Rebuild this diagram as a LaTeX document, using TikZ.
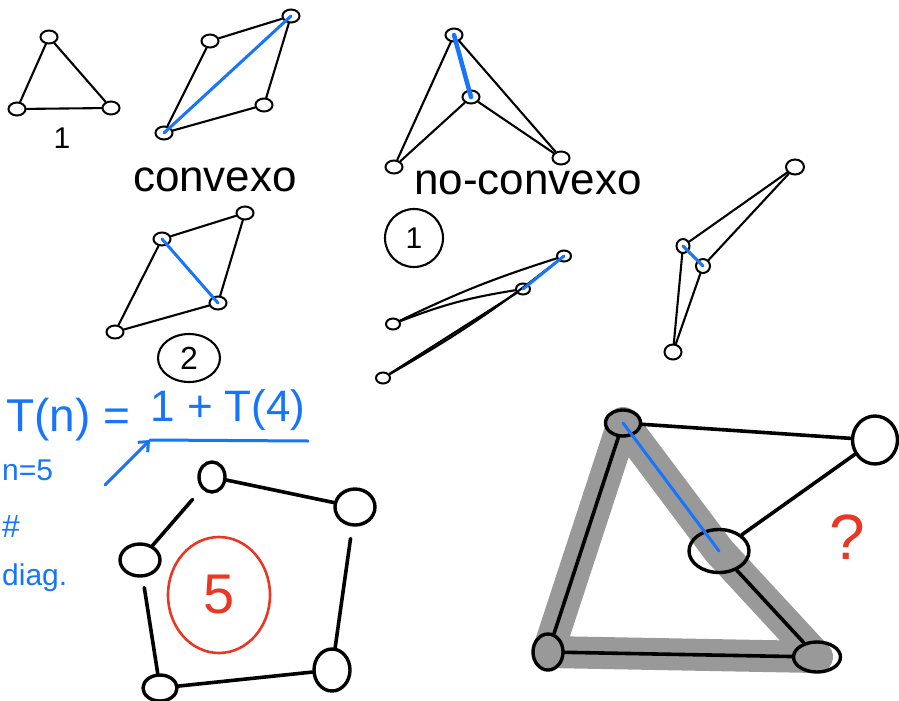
\documentclass[tikz,border=0pt]{standalone}
\usepackage{fontspec}
\setmainfont{Liberation Sans}
\usetikzlibrary{shapes.geometric, arrows.meta, backgrounds}
\definecolor{inkblue}{RGB}{22,117,250}
\definecolor{inkred}{RGB}{232,56,36}
\definecolor{marker}{RGB}{153,153,153}

\begin{document}
\begin{tikzpicture}[
    x=1pt, y=-1pt,
    vtx/.style={draw, ellipse, line width=2pt, inner sep=0pt, minimum width=17pt, minimum height=13pt},
    bigvtx/.style={draw, ellipse, line width=3.4pt, inner sep=0pt},
    ln/.style={line width=2.1pt, line cap=round},
    bigln/.style={line width=3.6pt, line cap=round},
    blueln/.style={inkblue, line width=3pt, line cap=round},
    hand/.style={inner sep=0pt, font=\fontsize{44}{48}\selectfont},
    eq/.style={hand, text=inkblue},
  ]
  \useasboundingbox (0,0) rectangle (899,701);
  \clip (0,0) rectangle (899,701);

  \node[vtx] (t1a) at (49,37) {};
  \node[vtx] (t1b) at (17,109) {};
  \node[vtx] (t1c) at (111,108) {};
  \draw[ln] (t1a) -- (t1b) -- (t1c) -- (t1a);
  \node[hand, font=\fontsize{30}{32}\selectfont] (one) at (62,138) {1};

  \node[vtx] (c1) at (210,41) {};
  \node[vtx] (c2) at (291,16) {};
  \node[vtx] (c3) at (264,105) {};
  \node[vtx] (c4) at (164,133) {};
  \draw[ln] (c1) -- (c2) -- (c3) -- (c4) -- (c1);
  \draw[blueln] (c4.center) -- (c2.center);
  \node[hand] (convexo) at (215,180) {convexo};

  \node[vtx] (d1) at (162,239) {};
  \node[vtx] (d2) at (245,213) {};
  \node[vtx] (d3) at (218,303) {};
  \node[vtx] (d4) at (115,332) {};
  \draw[ln] (d1) -- (d2) -- (d3) -- (d4) -- (d1);
  \draw[blueln] (d1.center) -- (d3.center);
  \node[draw, ellipse, ln, minimum width=62pt, minimum height=48pt, inner sep=0pt,
    font=\fontsize{32}{34}\selectfont] (two) at (189,358) {2};

  \node[vtx] (n1) at (454,35) {};
  \node[vtx] (n2) at (471,97) {};
  \node[vtx] (n3) at (394,167) {};
  \node[vtx] (n4) at (561,158) {};
  \draw[ln] (n1) -- (n3) -- (n2) -- (n4);
  \draw[ln] (n1) -- (n4);
  \draw[blueln, line width=4.5pt] (n1.center) -- (n2.center);
  \node[hand] (noconvexo) at (528,183) {no-convexo};
  \node[draw, circle, ln, minimum size=58pt, inner sep=0pt,
    font=\fontsize{30}{32}\selectfont] (circone) at (414,238) {1};

  \node[vtx, minimum width=14pt, minimum height=11pt] (f1) at (393,324) {};
  \node[vtx, minimum width=14pt, minimum height=11pt] (f2) at (564,256) {};
  \node[vtx, minimum width=14pt, minimum height=11pt] (f3) at (523,289) {};
  \node[vtx, minimum width=14pt, minimum height=11pt] (f4) at (383,378) {};
  \draw[ln] (f1) to[bend left=4] (f2);
  \draw[ln] (f1) to[bend left=6] (f3);
  \draw[ln] (f4) -- (f3);
  \draw[ln] (f4) to[bend right=4] (f2);
  \draw[blueln] (f3.center) -- (f2.center);

  \node[vtx, minimum width=13pt, minimum height=14pt] (r1) at (683,246) {};
  \node[vtx, minimum width=14pt, minimum height=14pt] (r2) at (703,266) {};
  \node[vtx, minimum width=18pt, minimum height=15pt] (r3) at (795,167) {};
  \node[vtx, minimum width=17pt, minimum height=15pt] (r4) at (673,352) {};
  \draw[ln] (r1) -- (r3);
  \draw[ln] (r2) -- (r3);
  \draw[ln] (r1) -- (r4);
  \draw[ln] (r2) -- (r4);
  \draw[blueln] (r1.center) -- (r2.center);

  \node[eq, font=\fontsize{46}{50}\selectfont] (lhs) at (68,420) {T(n) =};
  \node[eq] (rhs) at (228,410) {1 + T(4)};
  \coordinate (barl) at (150,440);
  \coordinate (barr) at (308,441);
  \coordinate (tail) at (105,485);
  \draw[blueln] (barl) -- (barr);
  \draw[blueln, -{Straight Barb[length=8pt, width=14pt]}] (tail) -- (barl);
  \node[eq, anchor=west, font=\fontsize{30}{32}\selectfont] (nfive) at (2,470) {n=5};
  \node[eq, anchor=west, font=\fontsize{32}{34}\selectfont] (hash) at (2,527) {\#};
  \node[eq, anchor=west, font=\fontsize{30}{32}\selectfont] (ndiag) at (2,578) {diag.};

  \node[bigvtx, minimum width=26pt, minimum height=30pt] (p1) at (212,477) {};
  \node[bigvtx, minimum width=40pt, minimum height=36pt] (p2) at (355,507) {};
  \node[bigvtx, minimum width=40pt, minimum height=32pt] (p3) at (140,560) {};
  \node[bigvtx, minimum width=34pt, minimum height=26pt] (p4) at (160,688) {};
  \node[bigvtx, minimum width=36pt, minimum height=42pt] (p5) at (332,670) {};
  \draw[bigln] (p1) -- (p2);
  \draw[bigln, shorten <=12pt] (p2) -- (p5);
  \draw[bigln] (p5) -- (p4);
  \draw[bigln, shorten >=10pt] (p4) -- (p3);
  \draw[bigln, shorten >=14pt] (p3) -- (p1);
  \node[draw=inkred, ellipse, line width=2.6pt, minimum width=102pt, minimum height=116pt,
    inner sep=0pt, text=inkred, font=\fontsize{56}{60}\selectfont] (five) at (219,595) {5};

  \node[bigvtx, minimum width=35pt, minimum height=26pt] (g1) at (623,423) {};
  \node[bigvtx, minimum width=45pt, minimum height=48pt] (g2) at (875,440) {};
  \node[bigvtx, minimum width=60pt, minimum height=43pt] (g3) at (719,551) {};
  \node[bigvtx, minimum width=30pt, minimum height=36pt] (g4) at (548,652) {};
  \node[bigvtx, minimum width=47pt, minimum height=30pt] (g5) at (817,657) {};
  \begin{pgfonlayer}{background}
    \draw[marker, line width=32pt, line join=round, line cap=round]
      (g1.center) -- (g4.center) -- (g5.center) -- (g3.center) -- cycle;
  \end{pgfonlayer}
  \draw[bigln] (g1) -- (g2);
  \draw[bigln] (g2) -- (g3);
  \draw[bigln] (g1) -- (g4);
  \draw[bigln] (g4) -- (g5);
  \draw[bigln] (g5) -- (g3);
  \draw[blueln] (g1.center) -- (g3.center);
  \node[hand, text=inkred, font=\fontsize{64}{68}\selectfont] (what) at (847,537) {?};
\end{tikzpicture}
\end{document}
